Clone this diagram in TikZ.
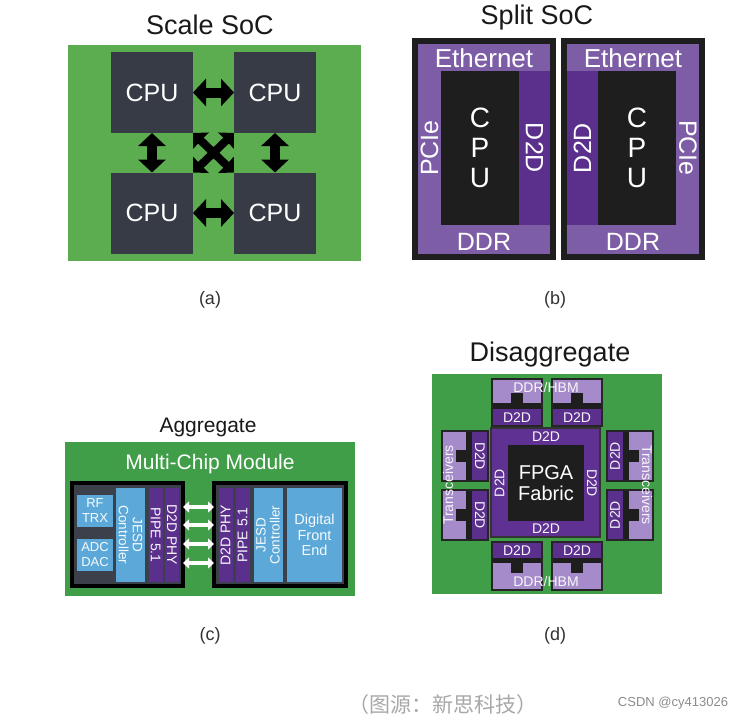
\documentclass[tikz,border=0pt]{standalone}
\usepackage{fontspec}
\setmainfont{Liberation Sans}
\newfontfamily\cjkfont{Noto Sans CJK SC}
\usetikzlibrary{arrows.meta, positioning}
\newcommand{\pxfont}[2]{\fontsize{#1}{#2}\selectfont}
\definecolor{socgreen}{RGB}{92,173,79}
\definecolor{mcmgreen}{RGB}{64,157,72}
\definecolor{cpugray}{RGB}{54,59,70}
\definecolor{splitpurple}{RGB}{125,94,166}
\definecolor{d2dpurple}{RGB}{91,48,140}
\definecolor{chipblack}{RGB}{30,30,30}
\definecolor{jesdblue}{RGB}{92,168,216}
\definecolor{mcmgray}{RGB}{60,64,75}
\definecolor{lightpurple}{RGB}{165,139,201}
\definecolor{fpgapurple}{RGB}{95,49,146}
\definecolor{captiongray}{RGB}{51,51,51}
\definecolor{srcgray}{RGB}{168,168,168}

\begin{document}
\begin{tikzpicture}[x=1pt, y=-1pt,
  box/.style={inner sep=0pt, outer sep=0pt},
  heading/.style={font=\pxfont{27}{30}, text=black!90},
  subcap/.style={font=\pxfont{18}{20}, text=captiongray},
  cpu/.style={box, fill=cpugray, minimum width=82pt, minimum height=81pt,
              text=white, font=\pxfont{25}{28}},
  wlabel/.style={text=white, font=\pxfont{25}{28}},
  slabel/.style={text=white!92!lightpurple, font=\pxfont{14}{15}},
  splitchip/.style={box, draw=chipblack, line width=6pt, fill=splitpurple,
              minimum width=138pt, minimum height=216pt},
  mcmchip/.style={box, draw=black, line width=4pt, fill=mcmgray,
              minimum height=103pt},
  bluebox/.style={box, fill=jesdblue, text=white!95!jesdblue, align=center},
  phybox/.style={box, fill=d2dpurple, text=white!95!lightpurple,
              minimum width=94pt, minimum height=14pt, font=\pxfont{14}{15}},
  chiplet/.style={box, fill=lightpurple},
  chipedge/.style={draw=black!85, line width=1.5pt},
  barr/.style={{Triangle[length=13pt,width=27pt]}-{Triangle[length=13pt,width=27pt]},
              line width=10pt, black},
  xarr/.style={{Triangle[length=11pt,width=22pt]}-{Triangle[length=11pt,width=22pt]},
              line width=8pt, black},
  warr/.style={{Triangle[length=6pt,width=11pt]}-{Triangle[length=6pt,width=11pt]},
              line width=4pt, white}
]
\fill[white] (0,0) rectangle (744,720);
\useasboundingbox (0,0) rectangle (744,720);

% (a) Scale SoC
\node[heading] (ta) at (210,25) {Scale SoC};
\node[box, fill=socgreen, minimum width=293pt, minimum height=216pt] (scale) at (214.5,153) {};
\node[cpu] (cpu1) at (152,92.5) {CPU};
\node[cpu] (cpu2) at (275,92.5) {CPU};
\node[cpu] (cpu3) at (152,213) {CPU};
\node[cpu] (cpu4) at (275,213) {CPU};
\draw[barr] (cpu1) -- (cpu2);
\draw[barr] (cpu3) -- (cpu4);
\draw[barr] (cpu1) -- (cpu3);
\draw[barr] (cpu2) -- (cpu4);
\draw[xarr] (cpu1.south east) -- (cpu4.north west);
\draw[xarr] (cpu2.south west) -- (cpu3.north east);
\node[subcap] (capa) at (210,300) {(a)};

% (b) Split SoC
\node[heading] (tb) at (537,18) {Split SoC};
\node[splitchip] (lsplit) at (484,149) {};
\node[box, fill=chipblack, minimum width=78pt, minimum height=154pt] (lcpu) at (480,148) {};
\node[wlabel, align=center, font=\pxfont{28}{30}] at (lcpu) {C\\P\\U};
\node[box, wlabel, fill=d2dpurple, minimum width=154pt, minimum height=31pt, rotate=-90] (ld2d) at (534.5,148) {D2D};
\node[wlabel, font=\pxfont{26}{28}] (leth) at (484,58) {Ethernet};
\node[wlabel, rotate=90] (lpcie) at (429.5,148) {PCIe};
\node[wlabel] (lddr) at (484,242) {DDR};

\node[splitchip] (rsplit) at (633,149) {};
\node[box, fill=chipblack, minimum width=78pt, minimum height=154pt] (rcpu) at (637,148) {};
\node[wlabel, align=center, font=\pxfont{28}{30}] at (rcpu) {C\\P\\U};
\node[box, wlabel, fill=d2dpurple, minimum width=154pt, minimum height=31pt, rotate=90] (rd2d) at (582.5,148) {D2D};
\node[wlabel, font=\pxfont{26}{28}] (reth) at (633,58) {Ethernet};
\node[wlabel, rotate=-90] (rpcie) at (688,148) {PCIe};
\node[wlabel] (rddr) at (633,242) {DDR};
\node[subcap] (capb) at (555,300) {(b)};

% (c) Aggregate
\node[heading, font=\pxfont{21}{24}] (tc) at (208,427) {Aggregate};
\node[box, fill=mcmgreen, minimum width=290pt, minimum height=154pt] (mcm) at (210,519) {};
\node[text=white, font=\pxfont{21}{24}] (mcmlabel) at (210,464) {Multi-Chip Module};
\node[mcmchip, minimum width=111pt] (lmcm) at (127.5,534.5) {};
\node[bluebox, minimum width=36pt, minimum height=32pt, font=\pxfont{13}{15}] (rftrx) at (95,511) {RF\\TRX};
\node[bluebox, minimum width=36pt, minimum height=32pt, font=\pxfont{13}{15}] (adcdac) at (95,555) {ADC\\DAC};
\node[bluebox, minimum width=94pt, minimum height=29pt, rotate=-90, font=\pxfont{13.5}{14}] (ljesd) at (130.5,535) {JESD\\Controller};
\node[phybox, rotate=-90] (lpipe) at (155.5,535) {PIPE 5.1};
\node[phybox, rotate=-90] (lphy) at (172,535) {D2D PHY};
\node[mcmchip, minimum width=132pt] (rmcm) at (280,534.5) {};
\node[phybox, rotate=90] (rphy) at (225.5,535) {D2D PHY};
\node[phybox, rotate=90] (rpipe) at (242.5,535) {PIPE 5.1};
\node[bluebox, minimum width=94pt, minimum height=29pt, rotate=90, font=\pxfont{13.5}{14}] (rjesd) at (268,535) {JESD\\Controller};
\node[bluebox, minimum width=55pt, minimum height=94pt, font=\pxfont{14.5}{15.5}] (dfe) at (314.5,535) {Digital\\Front\\End};
\foreach \y in {507,525,544,563}
  \draw[warr] (lmcm.east |- 0,\y) -- (rmcm.west |- 0,\y);
\node[subcap] (capc) at (210,636) {(c)};

% (d) Disaggregate
\node[heading] (td) at (550,355) {Disaggregate};
\node[box, fill=mcmgreen, minimum width=230pt, minimum height=220pt] (pkg) at (547,484) {};
\node[box, draw=black!80, line width=2pt, fill=fpgapurple, minimum size=109pt] (fpga) at (545.5,482.5) {};
\node[box, fill=chipblack, minimum size=76pt, text=white, align=center, font=\pxfont{20}{21}] (fabric) at (546,483) {FPGA\\Fabric};
\node[slabel] (fd2dt) at (546,437) {D2D};
\node[slabel] (fd2db) at (546,528.5) {D2D};
\node[slabel, rotate=90] (fd2dl) at (499.5,483) {D2D};
\node[slabel, rotate=-90] (fd2dr) at (592,483) {D2D};

% memory chiplets, top and bottom
\foreach \x [count=\i] in {492,552} {
  \node[chiplet, minimum width=50pt, minimum height=47pt] (hbmt\i) at (\x+25,402.5) {};
  \fill[d2dpurple] (\x,409) rectangle (\x+50,426);
  \fill[chipblack] (\x,403) rectangle (\x+50,409);
  \fill[chipblack] (\x+19,393) rectangle (\x+31,403);
  \node[slabel] at (\x+25,417.5) {D2D};
  \draw[chipedge] (hbmt\i.north west) rectangle (hbmt\i.south east);
  \node[chiplet, minimum width=50pt, minimum height=48pt] (hbmb\i) at (\x+25,566) {};
  \fill[d2dpurple] (\x,542) rectangle (\x+50,558);
  \fill[chipblack] (\x,558) rectangle (\x+50,563);
  \fill[chipblack] (\x+19,563) rectangle (\x+31,573);
  \node[slabel] at (\x+25,550.5) {D2D};
  \draw[chipedge] (hbmb\i.north west) rectangle (hbmb\i.south east);
}
% transceiver chiplets, left and right
\foreach \y [count=\i] in {431,490} {
  \node[chiplet, minimum width=46pt, minimum height=50pt] (trxl\i) at (465,\y+25) {};
  \fill[d2dpurple] (472,\y) rectangle (488,\y+50);
  \fill[chipblack] (466,\y) rectangle (472,\y+50);
  \fill[chipblack] (456,\y+19) rectangle (466,\y+31);
  \node[slabel, rotate=-90] at (480,\y+25) {D2D};
  \draw[chipedge] (trxl\i.north west) rectangle (trxl\i.south east);
  \node[chiplet, minimum width=46pt, minimum height=50pt] (trxr\i) at (630,\y+25) {};
  \fill[d2dpurple] (607,\y) rectangle (623,\y+50);
  \fill[chipblack] (623,\y) rectangle (629,\y+50);
  \fill[chipblack] (629,\y+19) rectangle (639,\y+31);
  \node[slabel, rotate=90] at (615,\y+25) {D2D};
  \draw[chipedge] (trxr\i.north west) rectangle (trxr\i.south east);
}
\node[slabel] (hbmtop) at (546,387) {DDR/HBM};
\node[slabel] (hbmbot) at (546,581) {DDR/HBM};
\node[slabel, rotate=90] (trxleft) at (448,485) {Transceivers};
\node[slabel, rotate=-90] (trxright) at (647,485) {Transceivers};
\node[subcap] (capd) at (555,636) {(d)};

% source line
\node[text=srcgray, font=\cjkfont\pxfont{21}{24}] (src) at (443,705) {（图源：新思科技）};
\node[text=black!45, font=\pxfont{13}{15}] (csdn) at (673,703) {CSDN @cy413026};
\end{tikzpicture}
\end{document}
